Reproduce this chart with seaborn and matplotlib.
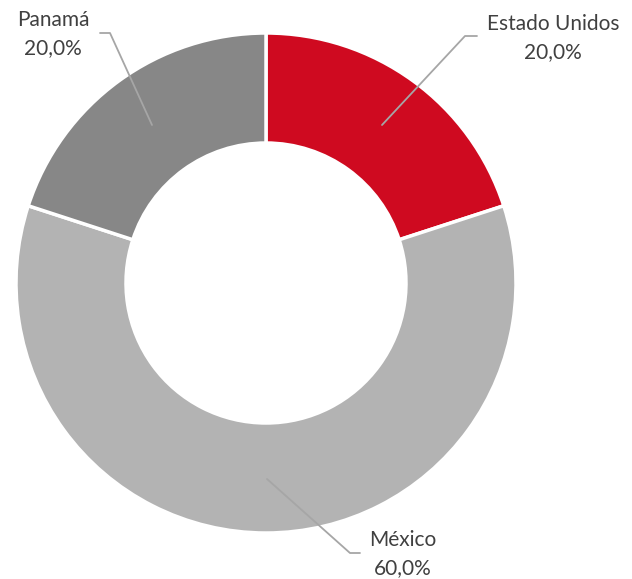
import matplotlib
matplotlib.use("Agg")
import matplotlib.pyplot as plt
import seaborn as sns

# data
paises = ["Estado Unidos", "México", "Panamá"]
porcentajes = [20.0, 60.0, 20.0]
colores = ["#CF0A20", "#B3B3B3", "#878787"]

sns.set_style("white")
plt.rcParams['font.family'] = ['Lato', 'DejaVu Sans']

W, H = 632, 579
fig = plt.figure(figsize=(W / 100, H / 100), dpi=100)
ax = fig.add_axes([0, 0, 1, 1])

cx, cy, r = 266, 283, 250
# y axis is flipped, so counterclock=True draws clockwise on screen
wedges, _ = ax.pie(porcentajes, colors=colores, startangle=-90, counterclock=True,
                   center=(cx, cy), radius=r, frame=True,
                   wedgeprops=dict(width=r * 0.44, edgecolor="white", linewidth=2.5))
ax.set_xlim(0, W)
ax.set_ylim(H, 0)
ax.set_aspect("equal")
ax.axis("off")

# label positions and leader lines (pixels)
etiquetas = {
    "Estado Unidos": dict(text=(553, 38), line=[(477, 36), (465, 36), (382, 125)]),
    "México": dict(text=(403, 554), line=[(267, 479), (350, 553), (360, 553)]),
    "Panamá": dict(text=(53, 34), line=[(100, 33), (110, 33), (152, 125)]),
}
for pais, pct in zip(paises, porcentajes):
    e = etiquetas[pais]
    xs, ys = zip(*e["line"])
    ax.plot(xs, ys, color="#A6A6A6", linewidth=1.3)
    ax.text(e["text"][0], e["text"][1], f"{pais}\n{pct:.1f}%".replace(".", ","),
            ha="center", va="center", fontsize=15, color="#404040", linespacing=1.55)

plt.savefig("out.png", dpi=100)
